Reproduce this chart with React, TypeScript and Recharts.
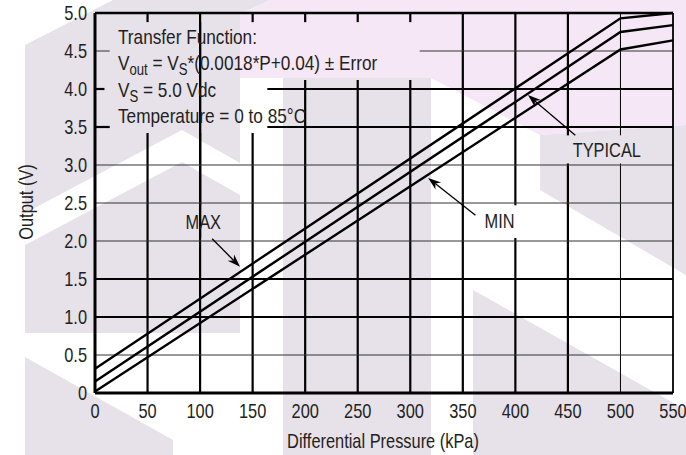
import React from 'react';
import { LineChart, Line, XAxis, YAxis, ReferenceLine, ReferenceDot } from 'recharts';

const pressure = [0, 500, 550];
const maxOut = [0.32, 4.93, 5.0];
const typicalOut = [0.15, 4.75, 4.84];
const minOut = [0.02, 4.52, 4.64];

const xTicks = [0, 50, 100, 150, 200, 250, 300, 350, 400, 450, 500, 550];
const yTicks = [0, 0.5, 1, 1.5, 2, 2.5, 3, 3.5, 4, 4.5, 5];
const thinRows = [0.5, 2, 2.5, 3, 4.5];
const thinCols = [500];

// grid is left open where the notes sit
const colGaps: Record<number, number[][]> = {
  50: [[3.42, 4.88]],
  100: [[3.42, 4.88], [2.04, 2.47]],
  150: [[3.42, 4.88]],
  200: [[4.12, 4.88]],
  250: [[4.12, 4.88]],
  300: [[4.12, 4.88]],
  400: [[2.04, 2.47]],
  450: [[3.02, 3.39]],
  500: [[3.02, 3.39]],
};
const rowGaps: Record<string, number[][]> = {
  '4.5': [[14, 309]],
  '4': [[9, 164]],
  '3.5': [[14, 164]],
};

const pointers = [
  { from: [111.5, 2.03], to: [138, 1.66] },
  { from: [362, 2.34], to: [317, 2.83] },
  { from: [457, 3.39], to: [412, 3.92] },
];
const curveNames = [
  { text: 'MAX', p: 103, v: 2.25 },
  { text: 'MIN', p: 385, v: 2.27 },
  { text: 'TYPICAL', p: 487, v: 3.2 },
];

const data = pressure.map((p, i) => ({ p, max: maxOut[i], typ: typicalOut[i], min: minOut[i] }));

const FONT = "'Liberation Sans', Arial, sans-serif";
const SQUEEZE = 0.82; // no narrow face installed, so squeeze a regular one
const INK = '#231f20';
const LAV = '#e7e1ea';
const PINK = '#f5e7f5';

const split = (lo: number, hi: number, gaps: number[][] = []) => {
  const out: number[][] = [];
  let start = lo;
  gaps.forEach(([a, b]) => {
    out.push([start, a]);
    start = b;
  });
  out.push([start, hi]);
  return out;
};

const Narrow = ({ x, y, anchor = 'start', size = 20, dy, rotate = 0, children }: any) => (
  <text
    transform={`translate(${x} ${y}) rotate(${rotate}) scale(${SQUEEZE} 1)`}
    textAnchor={anchor}
    dy={dy}
    fontFamily={FONT}
    fontSize={size}
    fill={INK}
  >
    {children}
  </text>
);

const XTick = (props: any) => (
  <Narrow x={props.x} y={props.y} anchor="middle" dy="0.71em">{props.payload.value}</Narrow>
);
const YTick = (props: any) => {
  const v = props.payload.value;
  return (
    <Narrow x={props.x} y={props.y} anchor="end" dy="0.355em">{v === 0 ? '0' : v.toFixed(1)}</Narrow>
  );
};

const Arrow = (props: any) => {
  const { x1, y1, x2, y2 } = props;
  const dx = x2 - x1;
  const dy = y2 - y1;
  const len = Math.hypot(dx, dy);
  const ux = dx / len;
  const uy = dy / len;
  const hl = 13;
  const hw = 4.5;
  const bx = x2 - ux * hl;
  const by = y2 - uy * hl;
  const nx = bx + ux * 4;
  const ny = by + uy * 4;
  return (
    <g>
      <line x1={x1} y1={y1} x2={nx} y2={ny} stroke="#000" strokeWidth={1.3} />
      <polygon
        points={`${x2},${y2} ${bx - uy * hw},${by + ux * hw} ${nx},${ny} ${bx + uy * hw},${by - ux * hw}`}
        fill="#000"
      />
    </g>
  );
};

const NameLabel = (text: string) => (props: any) => (
  <Narrow x={props.viewBox.x} y={props.viewBox.y} anchor="middle" dy="0.355em">{text}</Narrow>
);

export default function App() {
  const grid: React.ReactNode[] = [];
  xTicks.slice(1, -1).forEach((x) => {
    split(0, 5, colGaps[x]).forEach(([a, b], k) => {
      grid.push(
        <ReferenceLine key={`c${x}-${k}`} segment={[{ x, y: a }, { x, y: b }]}
          stroke="#000" strokeWidth={thinCols.includes(x) ? 1 : 2.2} />
      );
    });
  });
  yTicks.slice(1, -1).forEach((y) => {
    split(0, 550, rowGaps[String(y)]).forEach(([a, b], k) => {
      grid.push(
        <ReferenceLine key={`r${y}-${k}`} segment={[{ x: a, y }, { x: b, y }]}
          stroke={thinRows.includes(y) ? '#333' : '#000'} strokeWidth={thinRows.includes(y) ? 1 : 2.2} />
      );
    });
  });

  return (
    <div style={{ position: 'absolute', left: 0, top: 0, width: 686, height: 455, background: '#fff' }}>
      <svg width={686} height={455} style={{ position: 'absolute', left: 0, top: 0 }}>
        <polygon points="25,45 113,0 270,0 240,14 240,163 182,130 25,213" fill={LAV} />
        <polygon points="240,14 270,0 686,0 686,125 540,135 431,78 240,78" fill={PINK} />
        <polygon points="283,78 431,78 431,455 283,455" fill={LAV} />
        <polygon points="540,135 686,125 686,275 540,190" fill={LAV} />
        <polygon points="473,290 686,410 686,455 473,455" fill={LAV} />
        <polygon points="25,357 173,440 173,455 25,455" fill={LAV} />
        <polygon points="25,245 182,162 240,195 240,333 25,333" fill={LAV} />
      </svg>
      <div style={{ position: 'absolute', left: 0, top: 0 }}>
        <LineChart width={686} height={455} data={data} margin={{ top: 13, right: 13, bottom: 0, left: 0 }}>
          <XAxis dataKey="p" type="number" domain={[0, 550]} ticks={xTicks} interval={0}
            tickLine={false} axisLine={false} tickSize={0} tickMargin={11} height={62} tick={XTick} />
          <YAxis type="number" domain={[0, 5]} ticks={yTicks} interval={0}
            tickLine={false} axisLine={false} tickSize={0} tickMargin={8} width={95} tick={YTick} />
          {grid}
          <ReferenceLine segment={[{ x: 0, y: 5 }, { x: 550, y: 5 }]} stroke="#000" strokeWidth={2.4} />
          <ReferenceLine segment={[{ x: 550, y: 0 }, { x: 550, y: 5 }]} stroke="#000" strokeWidth={1.8} />
          <ReferenceLine segment={[{ x: 0, y: 0 }, { x: 550, y: 0 }]} stroke="#000" strokeWidth={3.2} />
          <ReferenceLine segment={[{ x: 0, y: 0 }, { x: 0, y: 5 }]} stroke="#000" strokeWidth={3} />
          <Line dataKey="max" type="linear" stroke="#000" strokeWidth={2.4} dot={false} isAnimationActive={false} />
          <Line dataKey="typ" type="linear" stroke="#000" strokeWidth={2.4} dot={false} isAnimationActive={false} />
          <Line dataKey="min" type="linear" stroke="#000" strokeWidth={2.4} dot={false} isAnimationActive={false} />
          {pointers.map((a, i) => (
            <ReferenceLine key={`a${i}`} segment={[{ x: a.from[0], y: a.from[1] }, { x: a.to[0], y: a.to[1] }]}
              shape={Arrow} />
          ))}
          {curveNames.map((n) => (
            <ReferenceDot key={n.text} x={n.p} y={n.v} r={0} fill="none" stroke="none" label={NameLabel(n.text)} />
          ))}
        </LineChart>
      </div>
      <svg width={686} height={455} style={{ position: 'absolute', left: 0, top: 0, pointerEvents: 'none' }}>
        <Narrow x={118} y={44} size={21}>Transfer Function:</Narrow>
        <Narrow x={118} y={70} size={21}>
          V<tspan dy={5} fontSize={16}>out</tspan><tspan dy={-5}> = V</tspan>
          <tspan dy={5} fontSize={16}>S</tspan><tspan dy={-5}>*(0.0018*P+0.04) ± Error</tspan>
        </Narrow>
        <Narrow x={118} y={97} size={21}>
          V<tspan dy={5} fontSize={16}>S</tspan><tspan dy={-5}> = 5.0 Vdc</tspan>
        </Narrow>
        <Narrow x={118} y={123} size={21}>Temperature = 0 to 85°C</Narrow>
        <Narrow x={383} y={448} anchor="middle">Differential Pressure (kPa)</Narrow>
        <Narrow x={33} y={202} anchor="middle" rotate={-90}>Output (V)</Narrow>
      </svg>
    </div>
  );
}
